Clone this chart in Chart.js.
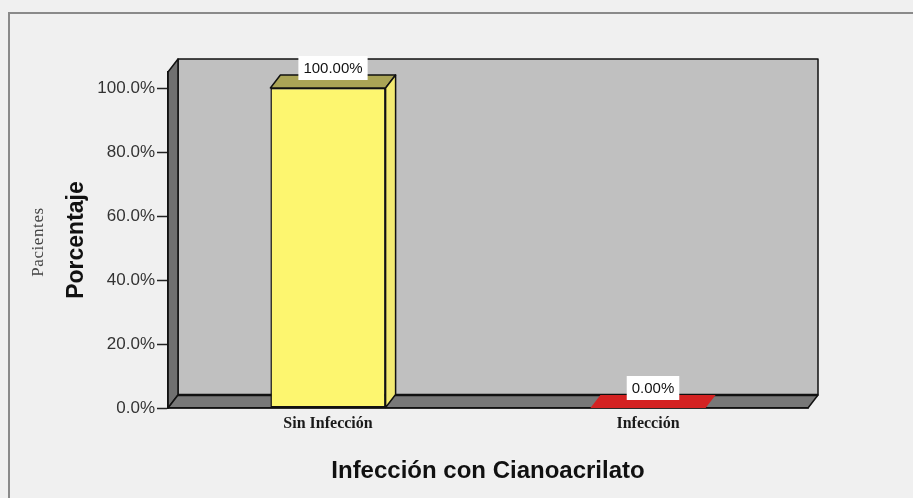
<!DOCTYPE html>
<html lang="es">
<head>
<meta charset="UTF-8">
<title>Infección con Cianoacrilato</title>
<script src="https://cdn.jsdelivr.net/npm/chart.js@4.4.5/dist/chart.umd.min.js"></script>
<style>
  html, body { margin: 0; padding: 0; background: #f0f0f0; }
</style>
</head>
<body>
<canvas id="myChart" width="913" height="498"></canvas>
<script>
    // data
    const categories = ['Sin Infección', 'Infección'];
    const percentValues = [100, 0];
    const valueLabels = ['100.00%', '0.00%'];
    const yTickValues = [0, 20, 40, 60, 80, 100];

    // styles
    const frontColors = ['#fdf66f', '#d42222'];
    const topColors = ['#aaa456', '#d42222'];
    const sideColors = ['#f3ea72', '#b81c1c'];
    const depthX = 10;
    const depthY = 13;

    function poly(ctx, pts, fill, noStroke) {
        ctx.beginPath();
        ctx.moveTo(pts[0][0], pts[0][1]);
        for (let i = 1; i < pts.length; i++) ctx.lineTo(pts[i][0], pts[i][1]);
        ctx.closePath();
        ctx.fillStyle = fill;
        ctx.fill();
        if (!noStroke) ctx.stroke();
    }

    const box3d = {
        id: 'box3d',
        beforeDraw: function (chart) {
            const ctx = chart.ctx;
            const a = chart.chartArea;
            ctx.save();
            ctx.fillStyle = '#f0f0f0';
            ctx.fillRect(0, 0, chart.width, chart.height);

            // outer frame
            ctx.strokeStyle = '#8a8a8a';
            ctx.lineWidth = 2;
            ctx.strokeRect(9, 13, chart.width + 10, chart.height + 10);

            ctx.strokeStyle = '#111';
            ctx.lineWidth = 1.5;
            ctx.lineJoin = 'round';
            // back wall
            poly(ctx, [[a.left + depthX, a.top - depthY], [a.right + depthX, a.top - depthY],
                [a.right + depthX, a.bottom - depthY], [a.left + depthX, a.bottom - depthY]], '#c0c0c0');
            // side wall
            poly(ctx, [[a.left, a.top], [a.left + depthX, a.top - depthY],
                [a.left + depthX, a.bottom - depthY], [a.left, a.bottom]], '#707070');
            // floor
            poly(ctx, [[a.left, a.bottom], [a.right, a.bottom],
                [a.right + depthX, a.bottom - depthY], [a.left + depthX, a.bottom - depthY]], '#787878');
            ctx.lineWidth = 2.5;
            ctx.beginPath();
            ctx.moveTo(a.left + depthX, a.bottom - depthY);
            ctx.lineTo(a.right + depthX, a.bottom - depthY);
            ctx.stroke();
            ctx.restore();
        },
        afterDatasetsDraw: function (chart) {
            const ctx = chart.ctx;
            const meta = chart.getDatasetMeta(0);
            ctx.save();
            ctx.strokeStyle = '#111';
            ctx.lineWidth = 1.5;
            ctx.lineJoin = 'round';
            meta.data.forEach(function (bar, i) {
                const p = bar.getProps(['x', 'y', 'base', 'width'], true);
                const l = p.x - p.width / 2;
                const r = p.x + p.width / 2;
                const flat = p.base - p.y < 1;
                // top face (a zero bar is only a flat strip on the floor)
                poly(ctx, [[l, p.y], [r, p.y], [r + depthX, p.y - depthY], [l + depthX, p.y - depthY]], topColors[i], flat);
                // side face
                if (!flat) {
                    poly(ctx, [[r, p.y], [r + depthX, p.y - depthY], [r + depthX, p.base - depthY], [r, p.base]], sideColors[i]);
                }
            });

            // value labels
            ctx.font = '15px "Liberation Sans", Arial, sans-serif';
            ctx.textAlign = 'center';
            ctx.textBaseline = 'middle';
            meta.data.forEach(function (bar, i) {
                const p = bar.getProps(['x', 'y'], true);
                const cx = p.x + depthX / 2;
                const cy = p.y - 20;
                const w = ctx.measureText(valueLabels[i]).width + 10;
                ctx.fillStyle = '#ffffff';
                ctx.fillRect(cx - w / 2, cy - 12, w, 24);
                ctx.fillStyle = '#111';
                ctx.fillText(valueLabels[i], cx, cy + 1);
            });
            ctx.restore();
        },
        afterDraw: function (chart) {
            const ctx = chart.ctx;
            const a = chart.chartArea;
            ctx.save();
            ctx.translate(39, (a.top + a.bottom) / 2 + 2);
            ctx.rotate(-Math.PI / 2);
            ctx.font = '17px "Liberation Serif", "Times New Roman", serif';
            ctx.letterSpacing = '0.6px';
            ctx.fillStyle = '#444';
            ctx.textAlign = 'center';
            ctx.textBaseline = 'middle';
            ctx.fillText('Pacientes', 0, 0);
            ctx.restore();
        }
    };

    const config = {
        type: 'bar',
        data: {
            labels: categories,
            datasets: [{
                data: percentValues,
                backgroundColor: frontColors,
                borderColor: '#111',
                borderWidth: 1.5,
                borderSkipped: false,
                categoryPercentage: 0.36,
                barPercentage: 1.0
            }]
        },
        options: {
            responsive: false,
            animation: false,
            layout: {
                padding: {left: 0, right: 105, top: 72, bottom: 0}
            },
            scales: {
                x: {
                    afterFit: function (scale) {
                        scale.height = 90;
                    },
                    grid: {display: false, drawTicks: false},
                    border: {display: true, color: '#111', width: 1.5},
                    ticks: {
                        padding: 6,
                        color: '#1a1a1a',
                        font: {family: '"Liberation Serif", "Times New Roman", serif', size: 16, weight: 'bold'}
                    },
                    title: {
                        display: true,
                        text: 'Infección con Cianoacrilato',
                        color: '#111',
                        font: {family: '"Liberation Sans", Arial, sans-serif', size: 24, weight: 'bold'},
                        padding: {top: 0, bottom: 12}
                    }
                },
                y: {
                    min: 0,
                    max: 105,
                    afterBuildTicks: function (scale) {
                        scale.ticks = yTickValues.map(v => ({value: v}));
                    },
                    afterFit: function (scale) {
                        scale.width = 168;
                    },
                    grid: {drawOnChartArea: false, drawTicks: true, tickLength: 11, tickColor: '#222', tickWidth: 1.5},
                    border: {display: true, color: '#111', width: 1.5},
                    ticks: {
                        padding: 2,
                        color: '#333',
                        font: {family: '"Liberation Sans", Arial, sans-serif', size: 17},
                        callback: function (value) {
                            return value.toFixed(1) + '%';
                        }
                    },
                    title: {
                        display: true,
                        text: 'Porcentaje',
                        color: '#111',
                        font: {family: '"Liberation Sans", Arial, sans-serif', size: 23, weight: 'bold'},
                        padding: {top: 63, bottom: 0}
                    }
                }
            },
            plugins: {
                legend: {display: false},
                tooltip: {enabled: false}
            }
        },
        plugins: [box3d]
    };

    const ctx = document.getElementById('myChart').getContext('2d');
    const myChart = new Chart(ctx, config);
</script>
</body>
</html>
